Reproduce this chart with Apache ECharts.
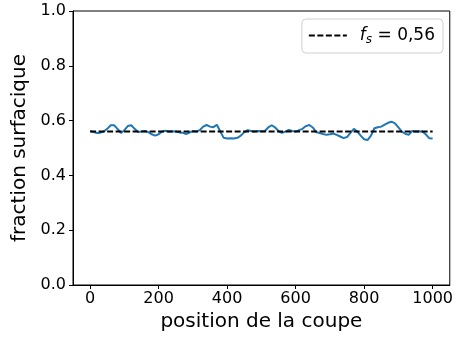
<!DOCTYPE html>
<html>
<head>
<meta charset="utf-8">
<script src="https://cdn.jsdelivr.net/npm/echarts@6/dist/echarts.min.js"></script>
<style>
html,body{margin:0;padding:0;background:#fff;}
#main{width:456px;height:340px;}
</style>
</head>
<body>
<div id="main"></div>
<script>
// position de la coupe (pas de 10)
var positions = [0,10,20,30,40,50,60,70,80,90,100,110,120,130,140,150,160,170,180,190,
  200,210,220,230,240,250,260,270,280,290,300,310,320,330,340,350,360,370,380,390,
  400,410,420,430,440,450,460,470,480,490,500,510,520,530,540,550,560,570,580,590,
  600,610,620,630,640,650,660,670,680,690,700,710,720,730,740,750,760,770,780,790,
  800,810,820,830,840,850,860,870,880,890,900,910,920,930,940,950,960,970,980,990,1000];
var fraction = [0.562,0.558,0.555,0.556,0.560,0.570,0.583,0.583,0.570,0.555,
  0.565,0.580,0.583,0.570,0.558,0.560,0.562,0.558,0.550,0.545,
  0.550,0.560,0.563,0.560,0.561,0.560,0.557,0.556,0.551,0.556,
  0.562,0.560,0.565,0.578,0.584,0.578,0.576,0.585,0.560,0.537,
  0.535,0.536,0.535,0.537,0.545,0.558,0.565,0.562,0.560,0.562,
  0.561,0.562,0.575,0.583,0.575,0.562,0.555,0.560,0.566,0.562,
  0.560,0.565,0.570,0.580,0.584,0.575,0.558,0.555,0.551,0.548,
  0.550,0.553,0.548,0.542,0.536,0.540,0.555,0.570,0.560,0.545,
  0.532,0.529,0.545,0.572,0.576,0.578,0.585,0.592,0.596,0.590,
  0.575,0.560,0.552,0.548,0.562,0.560,0.561,0.560,0.550,0.536,0.535];
var fsMoyen = 0.56;
var fsRange = [0, 1000];
var xTicks = [0, 200, 400, 600, 800, 1000];

var lineData = positions.map(function (x, i) { return [x, fraction[i]]; });
var fsData = fsRange.map(function (x) { return [x, fsMoyen]; });

var font = 'DejaVu Sans';
var myChart = echarts.init(document.getElementById('main'));
var option = {
    animation: false,
    grid: {
        left: 73, right: 3, top: 11, bottom: 55,
        show: true, borderColor: '#000', borderWidth: 1
    },
    legend: {
        right: 13, top: 19,
        data: ['fs'],
        itemWidth: 38, itemHeight: 14, itemGap: 0,
        padding: [8, 8, 7, 6],
        borderColor: '#d0d0d0', borderWidth: 1, borderRadius: 4,
        backgroundColor: '#fff',
        itemStyle: { opacity: 0 },
        formatter: function () { return '{i|f}{s|s} = 0,56'; },
        textStyle: {
            fontFamily: font, fontSize: 17, color: '#000',
            rich: {
                i: { fontFamily: font, fontSize: 17, fontStyle: 'italic', color: '#000', padding: [0, 0, 0, 8] },
                s: { fontFamily: font, fontSize: 12, fontStyle: 'italic', color: '#000', padding: [9, 0, 0, 0] }
            }
        }
    },
    xAxis: {
        type: 'value', min: -50, max: 1050, interval: 200,
        name: 'position de la coupe', nameLocation: 'middle', nameGap: 27,
        nameTextStyle: { fontFamily: font, fontSize: 20, color: '#000' },
        axisLine: { show: true, onZero: false, lineStyle: { color: '#000', width: 1 } },
        axisTick: { show: true, inside: false, length: 4, lineStyle: { color: '#000' }, customValues: xTicks },
        axisLabel: {
            fontFamily: font, fontSize: 16, color: '#000', margin: 6, customValues: xTicks,
            formatter: function (v) { return String(v); }
        },
        splitLine: { show: false }
    },
    yAxis: {
        type: 'value', min: 0, max: 1, interval: 0.2,
        name: 'fraction surfacique', nameLocation: 'middle', nameGap: 41,
        nameTextStyle: { fontFamily: font, fontSize: 20, color: '#000' },
        axisLine: { show: true, onZero: false, lineStyle: { color: '#000', width: 1 } },
        axisTick: { show: true, inside: false, length: 4, lineStyle: { color: '#000' } },
        axisLabel: {
            fontFamily: font, fontSize: 16, color: '#000', margin: 7,
            formatter: function (v) { return v.toFixed(1); }
        },
        splitLine: { show: false }
    },
    series: [{
        name: 'profil',
        type: 'line',
        data: lineData,
        showSymbol: false, symbol: 'none',
        lineStyle: { color: '#1f77b4', width: 2 },
        z: 2
    }, {
        name: 'fs',
        type: 'line',
        data: fsData,
        showSymbol: false, symbol: 'none',
        itemStyle: { color: '#000' },
        lineStyle: { color: '#000', width: 2, type: [6, 2.5] },
        z: 3
    }]
};
myChart.setOption(option);
</script>
</body>
</html>
